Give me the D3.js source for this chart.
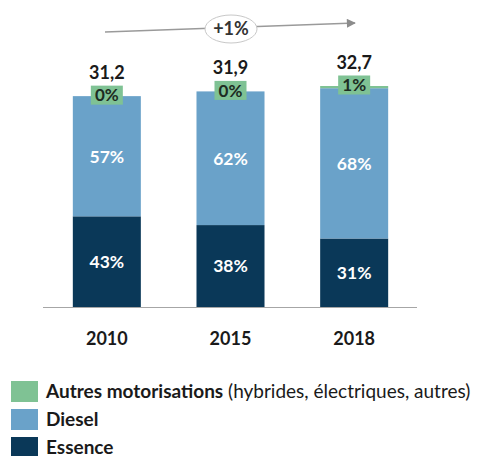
<!DOCTYPE html>
<html>
<head>
<meta charset="UTF-8">
<script src="https://cdn.jsdelivr.net/npm/d3@7"></script>
<style>
  body { margin: 0; background: #fff; }
  svg { display: block; font-family: Lato, "Open Sans", sans-serif; }
</style>
</head>
<body>
<div id="chart"></div>
<script>
  // values
  var years = ["2010", "2015", "2018"];
  var totals = [31.2, 31.9, 32.7];
  var essence = [43, 38, 31];
  var diesel = [57, 62, 68];
  var autres = [0, 0, 1];
  var growth = "+1%";
  var legendLabels = [
    { bold: "Autres motorisations", rest: " (hybrides, électriques, autres)" },
    { bold: "Diesel", rest: "" },
    { bold: "Essence", rest: "" }
  ];

  var colEssence = "#0a3858";
  var colDiesel = "#6aa2c9";
  var colAutres = "#7fc294";

  var width = 482, height = 456;

  var svg = d3.select("#chart").append("svg")
    .attr("width", width)
    .attr("height", height);

  var x = d3.scaleBand()
    .domain(years)
    .range([45, 416])
    .paddingInner(0.45)
    .paddingOuter(0.225);

  var y = d3.scaleLinear()
    .domain([0, 32.7])
    .range([307, 86]);

  // stacked segments in absolute units
  var rows = years.map(function (yr, i) {
    var e = totals[i] * essence[i] / 100;
    var d = totals[i] * diesel[i] / 100;
    var a = totals[i] * autres[i] / 100;
    return {
      year: yr, total: totals[i],
      segs: [
        { key: "essence", y0: 0, y1: e, pct: essence[i], color: colEssence },
        { key: "diesel", y0: e, y1: e + d, pct: diesel[i], color: colDiesel },
        { key: "autres", y0: e + d, y1: e + d + a, pct: autres[i], color: colAutres }
      ]
    };
  });

  var bars = svg.append("g").selectAll("g.bar")
    .data(rows).enter()
    .append("g").attr("class", "bar");

  bars.selectAll("rect")
    .data(function (d) { return d.segs; }).enter()
    .append("rect")
    .attr("x", function () { return x(d3.select(this.parentNode).datum().year); })
    .attr("width", x.bandwidth())
    .attr("y", function (d) { return y(d.y1); })
    .attr("height", function (d) { return y(d.y0) - y(d.y1); })
    .attr("fill", function (d) { return d.color; });

  // segment percentages
  bars.selectAll("text.pct")
    .data(function (d) { return d.segs.slice(0, 2); }).enter()
    .append("text")
    .attr("class", "pct")
    .attr("x", function () { return x(d3.select(this.parentNode).datum().year) + x.bandwidth() / 2; })
    .attr("y", function (d) { return (y(d.y0) + y(d.y1)) / 2; })
    .attr("dy", "0.36em")
    .attr("text-anchor", "middle")
    .attr("fill", "#fff")
    .attr("font-weight", "bold")
    .attr("font-size", 17.5)
    .text(function (d) { return d.pct + "%"; });

  // green tags for "autres"
  bars.each(function (d) {
    var g = d3.select(this);
    var cx = x(d.year) + x.bandwidth() / 2;
    var top = y(d.total);
    var w = 32, h = 19;
    g.append("rect")
      .attr("x", cx - w / 2)
      .attr("y", top - 1 - h / 2)
      .attr("width", w)
      .attr("height", h)
      .attr("fill", colAutres);
    g.append("text")
      .attr("x", cx)
      .attr("y", top - 1)
      .attr("dy", "0.36em")
      .attr("text-anchor", "middle")
      .attr("font-weight", "bold")
      .attr("font-size", 17)
      .attr("fill", "#1d2b22")
      .text(d.segs[2].pct + "%");
    g.append("text")
      .attr("x", cx)
      .attr("y", top - 17)
      .attr("text-anchor", "middle")
      .attr("font-weight", "bold")
      .attr("font-size", 18)
      .attr("fill", "#1a1a1a")
      .text(d3.format(".1f")(d.total).replace(".", ","));
  });

  // baseline axis
  svg.append("line")
    .attr("x1", 43).attr("x2", 417)
    .attr("y1", y(0) + 0.5).attr("y2", y(0) + 0.5)
    .attr("stroke", "#a6a6a6")
    .attr("stroke-width", 1.2);

  svg.append("g").selectAll("text.year")
    .data(years).enter()
    .append("text")
    .attr("x", function (d) { return x(d) + x.bandwidth() / 2; })
    .attr("y", 345)
    .attr("text-anchor", "middle")
    .attr("font-weight", "bold")
    .attr("font-size", 18)
    .attr("fill", "#1a1a1a")
    .text(function (d) { return d; });

  // growth arrow
  svg.append("defs").append("marker")
    .attr("id", "arrow")
    .attr("viewBox", "0 0 10 10")
    .attr("refX", 9).attr("refY", 5)
    .attr("markerWidth", 11).attr("markerHeight", 9)
    .attr("markerUnits", "userSpaceOnUse")
    .attr("orient", "auto")
    .append("path")
    .attr("d", "M0,0L10,5L0,10Z")
    .attr("fill", "#8c8c8c");

  svg.append("line")
    .attr("x1", 105).attr("y1", 32)
    .attr("x2", 355).attr("y2", 23)
    .attr("stroke", "#9a9a9a")
    .attr("stroke-width", 1.5)
    .attr("marker-end", "url(#arrow)");

  svg.append("ellipse")
    .attr("cx", 231).attr("cy", 29)
    .attr("rx", 26).attr("ry", 14)
    .attr("fill", "#fff")
    .attr("stroke", "#c8c8c8")
    .attr("stroke-width", 1);

  svg.append("text")
    .attr("x", 231).attr("y", 29)
    .attr("dy", "0.36em")
    .attr("text-anchor", "middle")
    .attr("font-weight", "bold")
    .attr("font-size", 18)
    .attr("fill", "#333")
    .text(growth);

  // legend
  var legendColors = [colAutres, colDiesel, colEssence];
  var legend = svg.append("g").selectAll("g.leg")
    .data(legendLabels).enter()
    .append("g")
    .attr("transform", function (d, i) { return "translate(11," + (381 + i * 28) + ")"; });

  legend.append("rect")
    .attr("width", 27).attr("height", 21)
    .attr("fill", function (d, i) { return legendColors[i]; });

  var lt = legend.append("text")
    .attr("x", 35).attr("y", 16.5)
    .attr("font-size", 19)
    .attr("fill", "#1a1a1a");
  lt.append("tspan").attr("font-weight", "bold").text(function (d) { return d.bold; });
  lt.append("tspan").text(function (d) { return d.rest; });
</script>
</body>
</html>
